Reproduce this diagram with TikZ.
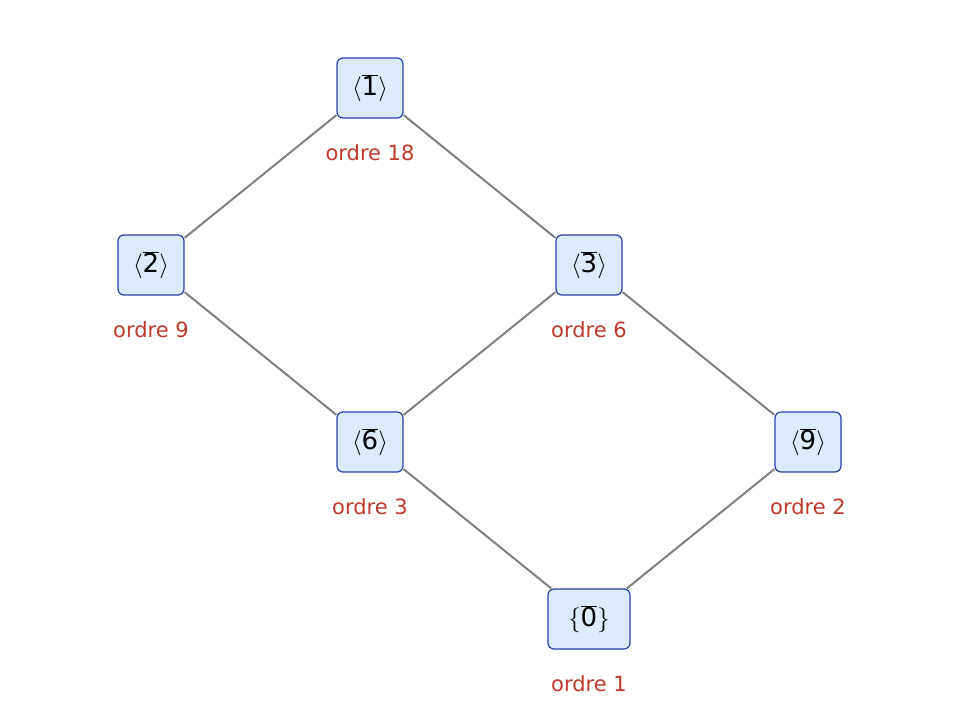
\documentclass[tikz,border=0pt]{standalone}
\usepackage{fontspec}
\setmainfont{DejaVu Sans}
\begin{document}
\begin{tikzpicture}[x=1pt,y=-1pt,
  grp/.style={draw=blue!50!black!80!cyan!60!blue,draw={rgb,255:red,38;green,64;blue,170},fill={rgb,255:red,220;green,234;blue,252},rounded corners=6pt,line width=1.2pt,minimum width=66pt,minimum height=60pt,inner xsep=6pt,font=\fontsize{26}{30}\selectfont},
  lab/.style={text={rgb,255:red,192;green,57;blue,43},font=\fontsize{21}{24}\selectfont},
  edge/.style={draw={rgb,255:red,128;green,128;blue,128},line width=2pt}]
\useasboundingbox (0,0) rectangle (960,723);
\node[grp] (n1) at (370,88) {$\langle\overline{\mbox{1}}\rangle$};
\node[grp] (n2) at (151,265) {$\langle\overline{\mbox{2}}\rangle$};
\node[grp] (n3) at (589,265) {$\langle\overline{\mbox{3}}\rangle$};
\node[grp] (n6) at (370,442) {$\langle\overline{\mbox{6}}\rangle$};
\node[grp] (n9) at (808,442) {$\langle\overline{\mbox{9}}\rangle$};
\node[grp,minimum width=82pt] (n0) at (589,619) {$\{\overline{\mbox{0}}\}$};
\node[lab] (l1) at (370,153) {ordre 18};
\node[lab] (l2) at (151,330) {ordre 9};
\node[lab] (l3) at (589,330) {ordre 6};
\node[lab] (l6) at (370,507) {ordre 3};
\node[lab] (l9) at (808,507) {ordre 2};
\node[lab] (l0) at (589,684) {ordre 1};
\draw[edge] (n1) -- (n2);
\draw[edge] (n1) -- (n3);
\draw[edge] (n2) -- (n6);
\draw[edge] (n3) -- (n6);
\draw[edge] (n3) -- (n9);
\draw[edge] (n6) -- (n0);
\draw[edge] (n9) -- (n0);
\end{tikzpicture}
\end{document}
